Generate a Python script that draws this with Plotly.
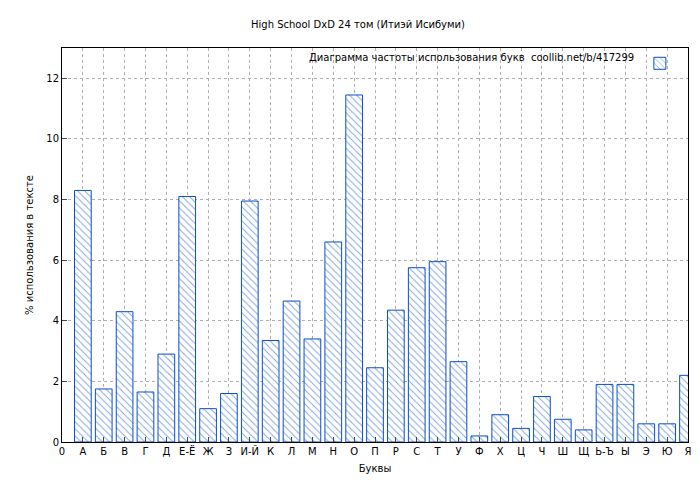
import plotly.graph_objects as go

letters = ["А", "Б", "В", "Г", "Д", "Е-Ё", "Ж", "З", "И-Й", "К", "Л", "М", "Н", "О", "П",
           "Р", "С", "Т", "У", "Ф", "Х", "Ц", "Ч", "Ш", "Щ", "Ь-Ъ", "Ы", "Э", "Ю", "Я"]
percent = [8.3, 1.75, 4.3, 1.65, 2.9, 8.1, 1.1, 1.6, 7.95, 3.35, 4.65, 3.4, 6.6, 11.45, 2.45,
           4.35, 5.75, 5.95, 2.65, 0.2, 0.9, 0.45, 1.5, 0.75, 0.4, 1.9, 1.9, 0.6, 0.6, 2.2]
positions = list(range(1, len(letters) + 1))
tick_text = ["0"] + letters
legend_text = "Диаграмма частоты использования букв  coollib.net/b/417299"

blue = "#0a4fc8"
fig = go.Figure(go.Bar(
    x=positions, y=percent, width=0.8, name="",
    marker=dict(color="white", line=dict(color=blue, width=1),
                pattern=dict(shape="\\", fgcolor=blue, bgcolor="white", size=5, solidity=0.2)),
))

axis_common = dict(showline=True, linecolor="black", mirror=True, ticks="inside",
                   showgrid=True, gridcolor="#b0b0b0", griddash="dot", zeroline=False,
                   automargin=False, tickfont=dict(size=10, color="black"))
fig.update_xaxes(range=[0, 30], tickvals=list(range(0, 31)), ticktext=tick_text,
                 title=dict(text="Буквы", font=dict(size=10), standoff=8), **axis_common)
fig.update_yaxes(range=[0, 13], dtick=2,
                 title=dict(text="% использования в тексте", font=dict(size=10), standoff=10),
                 **axis_common)
fig.add_annotation(text=legend_text, xref="paper", yref="paper", x=0.917, y=0.995,
                   xanchor="right", yanchor="top", showarrow=False, font=dict(size=10))
fig.update_layout(
    width=700, height=480,
    font=dict(family="DejaVu Sans", size=10, color="black"),
    title=dict(text="High School DxD 24 том (Итиэй Исибуми)", x=0.5, y=0.972, font=dict(size=10)),
    plot_bgcolor="white", paper_bgcolor="white",
    margin=dict(l=54, r=20, t=40, b=46),
    showlegend=True,
    legend=dict(x=0.995, y=0.998, xanchor="right", yanchor="top", bgcolor="rgba(255,255,255,0)",
                font=dict(size=10), itemwidth=30),
)
fig.write_html("out.html")
